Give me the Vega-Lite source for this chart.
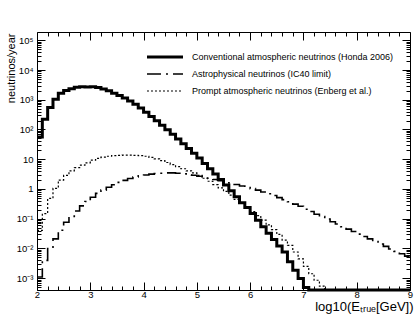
{
  "$schema": "https://vega.github.io/schema/vega-lite/v6.json",
  "autosize": {"type": "none"},
  "padding": {"left": 37, "top": 32, "right": 5, "bottom": 33},
  "width": 373,
  "height": 258,
  "background": "white",
  "config": {
    "view": {"stroke": "black", "strokeWidth": 1},
    "font": "Liberation Sans",
    "axis": {"domain": false, "grid": false, "tickColor": "black", "labelColor": "black", "titleColor": "black", "labelFont": "Liberation Sans", "titleFont": "Liberation Sans", "titleFontWeight": "normal", "labelOverlap": false, "labelFlush": false, "tickWidth": 1},
    "legend": {"orient": "none", "legendX": 108, "legendY": 17, "symbolType": "stroke", "symbolSize": 1300, "labelFontSize": 9, "labelFont": "Liberation Sans", "labelColor": "black", "symbolStrokeColor": "black", "labelOffset": 7, "rowPadding": 1, "clipHeight": 16, "labelLimit": 0}
  },
  "data": {"values": [
    {"s":"conv","x":2.0,"y":56.2},{"s":"conv","x":2.1,"y":219},{"s":"conv","x":2.2,"y":550},{"s":"conv","x":2.3,"y":1047},{"s":"conv","x":2.4,"y":1660},{"s":"conv","x":2.5,"y":2042},{"s":"conv","x":2.6,"y":2344},{"s":"conv","x":2.7,"y":2630},{"s":"conv","x":2.8,"y":2754},{"s":"conv","x":2.9,"y":2692},
    {"s":"conv","x":3.0,"y":2754},{"s":"conv","x":3.1,"y":2570},{"s":"conv","x":3.2,"y":2291},{"s":"conv","x":3.3,"y":1995},{"s":"conv","x":3.4,"y":1660},{"s":"conv","x":3.5,"y":1380},{"s":"conv","x":3.6,"y":1148},{"s":"conv","x":3.7,"y":912},{"s":"conv","x":3.8,"y":708},{"s":"conv","x":3.9,"y":525},
    {"s":"conv","x":4.0,"y":380},{"s":"conv","x":4.1,"y":275},{"s":"conv","x":4.2,"y":195},{"s":"conv","x":4.3,"y":138},{"s":"conv","x":4.4,"y":97.7},{"s":"conv","x":4.5,"y":69.2},{"s":"conv","x":4.6,"y":47.9},{"s":"conv","x":4.7,"y":33.1},{"s":"conv","x":4.8,"y":22.9},{"s":"conv","x":4.9,"y":15.8},
    {"s":"conv","x":5.0,"y":11.0},{"s":"conv","x":5.1,"y":7.24},{"s":"conv","x":5.2,"y":4.79},{"s":"conv","x":5.3,"y":3.16},{"s":"conv","x":5.4,"y":2.09},{"s":"conv","x":5.5,"y":1.35},{"s":"conv","x":5.6,"y":0.871},{"s":"conv","x":5.7,"y":0.55},{"s":"conv","x":5.8,"y":0.347},{"s":"conv","x":5.9,"y":0.24},
    {"s":"conv","x":6.0,"y":0.151},{"s":"conv","x":6.1,"y":0.0891},{"s":"conv","x":6.2,"y":0.0537},{"s":"conv","x":6.3,"y":0.0324},{"s":"conv","x":6.4,"y":0.02},{"s":"conv","x":6.5,"y":0.012},{"s":"conv","x":6.6,"y":0.00759},{"s":"conv","x":6.7,"y":0.00355},{"s":"conv","x":6.8,"y":0.00186},{"s":"conv","x":6.9,"y":0.000977},
    {"s":"conv","x":7.0,"y":0.00049},{"s":"conv","x":7.1,"y":0.0004},{"s":"conv","x":7.5,"y":0.0004},{"s":"conv","x":8.0,"y":0.0004},{"s":"conv","x":8.5,"y":0.0004},{"s":"conv","x":9.0,"y":0.0004},

    {"s":"prompt","x":2.0,"y":0.0407},{"s":"prompt","x":2.1,"y":0.148},{"s":"prompt","x":2.2,"y":0.479},{"s":"prompt","x":2.3,"y":1.047},{"s":"prompt","x":2.4,"y":1.995},{"s":"prompt","x":2.5,"y":2.884},{"s":"prompt","x":2.6,"y":4.07},{"s":"prompt","x":2.7,"y":5.25},{"s":"prompt","x":2.8,"y":6.31},{"s":"prompt","x":2.9,"y":7.59},
    {"s":"prompt","x":3.0,"y":9.33},{"s":"prompt","x":3.1,"y":10.7},{"s":"prompt","x":3.2,"y":11.7},{"s":"prompt","x":3.3,"y":12.6},{"s":"prompt","x":3.4,"y":13.2},{"s":"prompt","x":3.5,"y":13.5},{"s":"prompt","x":3.6,"y":13.8},{"s":"prompt","x":3.7,"y":13.8},{"s":"prompt","x":3.8,"y":13.5},{"s":"prompt","x":3.9,"y":13.2},
    {"s":"prompt","x":4.0,"y":12.6},{"s":"prompt","x":4.1,"y":11.5},{"s":"prompt","x":4.2,"y":10.2},{"s":"prompt","x":4.3,"y":8.91},{"s":"prompt","x":4.4,"y":7.76},{"s":"prompt","x":4.5,"y":6.61},{"s":"prompt","x":4.6,"y":5.62},{"s":"prompt","x":4.7,"y":4.79},{"s":"prompt","x":4.8,"y":4.07},{"s":"prompt","x":4.9,"y":3.47},
    {"s":"prompt","x":5.0,"y":2.88},{"s":"prompt","x":5.1,"y":2.29},{"s":"prompt","x":5.2,"y":1.82},{"s":"prompt","x":5.3,"y":1.41},{"s":"prompt","x":5.4,"y":1.096},{"s":"prompt","x":5.5,"y":0.832},{"s":"prompt","x":5.6,"y":0.617},{"s":"prompt","x":5.7,"y":0.447},{"s":"prompt","x":5.8,"y":0.324},{"s":"prompt","x":5.9,"y":0.24},
    {"s":"prompt","x":6.0,"y":0.174},{"s":"prompt","x":6.1,"y":0.126},{"s":"prompt","x":6.2,"y":0.0891},{"s":"prompt","x":6.3,"y":0.0617},{"s":"prompt","x":6.4,"y":0.0427},{"s":"prompt","x":6.5,"y":0.0295},{"s":"prompt","x":6.6,"y":0.0191},{"s":"prompt","x":6.7,"y":0.0126},{"s":"prompt","x":6.8,"y":0.00759},{"s":"prompt","x":6.9,"y":0.00447},
    {"s":"prompt","x":7.0,"y":0.00251},{"s":"prompt","x":7.1,"y":0.00141},{"s":"prompt","x":7.2,"y":0.000851},{"s":"prompt","x":7.3,"y":0.000537},{"s":"prompt","x":7.4,"y":0.0004},{"s":"prompt","x":8.0,"y":0.0004},{"s":"prompt","x":9.0,"y":0.0004},

    {"s":"astro","x":2.0,"y":0.0011},{"s":"astro","x":2.1,"y":0.00398},{"s":"astro","x":2.2,"y":0.01},{"s":"astro","x":2.3,"y":0.0209},{"s":"astro","x":2.4,"y":0.0407},{"s":"astro","x":2.5,"y":0.0759},{"s":"astro","x":2.6,"y":0.12},{"s":"astro","x":2.7,"y":0.182},{"s":"astro","x":2.8,"y":0.269},{"s":"astro","x":2.9,"y":0.38},
    {"s":"astro","x":3.0,"y":0.525},{"s":"astro","x":3.1,"y":0.708},{"s":"astro","x":3.2,"y":0.912},{"s":"astro","x":3.3,"y":1.148},{"s":"astro","x":3.4,"y":1.38},{"s":"astro","x":3.5,"y":1.66},{"s":"astro","x":3.6,"y":1.95},{"s":"astro","x":3.7,"y":2.239},{"s":"astro","x":3.8,"y":2.512},{"s":"astro","x":3.9,"y":2.754},
    {"s":"astro","x":4.0,"y":2.951},{"s":"astro","x":4.1,"y":3.162},{"s":"astro","x":4.2,"y":3.311},{"s":"astro","x":4.3,"y":3.388},{"s":"astro","x":4.4,"y":3.467},{"s":"astro","x":4.5,"y":3.467},{"s":"astro","x":4.6,"y":3.388},{"s":"astro","x":4.7,"y":3.236},{"s":"astro","x":4.8,"y":3.02},{"s":"astro","x":4.9,"y":2.884},
    {"s":"astro","x":5.0,"y":2.692},{"s":"astro","x":5.1,"y":2.512},{"s":"astro","x":5.2,"y":2.291},{"s":"astro","x":5.3,"y":2.089},{"s":"astro","x":5.4,"y":1.905},{"s":"astro","x":5.5,"y":1.738},{"s":"astro","x":5.6,"y":1.585},{"s":"astro","x":5.7,"y":1.413},{"s":"astro","x":5.8,"y":1.259},{"s":"astro","x":5.9,"y":1.122},
    {"s":"astro","x":6.0,"y":1.023},{"s":"astro","x":6.1,"y":0.912},{"s":"astro","x":6.2,"y":0.794},{"s":"astro","x":6.3,"y":0.692},{"s":"astro","x":6.4,"y":0.603},{"s":"astro","x":6.5,"y":0.513},{"s":"astro","x":6.6,"y":0.437},{"s":"astro","x":6.7,"y":0.372},{"s":"astro","x":6.8,"y":0.309},{"s":"astro","x":6.9,"y":0.263},
    {"s":"astro","x":7.0,"y":0.209},{"s":"astro","x":7.1,"y":0.174},{"s":"astro","x":7.2,"y":0.141},{"s":"astro","x":7.3,"y":0.1175},{"s":"astro","x":7.4,"y":0.0977},{"s":"astro","x":7.5,"y":0.0794},{"s":"astro","x":7.6,"y":0.0661},{"s":"astro","x":7.7,"y":0.0537},{"s":"astro","x":7.8,"y":0.0447},{"s":"astro","x":7.9,"y":0.0372},
    {"s":"astro","x":8.0,"y":0.0302},{"s":"astro","x":8.1,"y":0.0251},{"s":"astro","x":8.2,"y":0.0209},{"s":"astro","x":8.3,"y":0.017},{"s":"astro","x":8.4,"y":0.0141},{"s":"astro","x":8.5,"y":0.0117},{"s":"astro","x":8.6,"y":0.00955},{"s":"astro","x":8.7,"y":0.00794},{"s":"astro","x":8.8,"y":0.00661},{"s":"astro","x":8.9,"y":0.0055},{"s":"astro","x":9.0,"y":0.0055}
  ]},
  "resolve": {"scale": {"x": "independent", "y": "independent"}, "axis": {"x": "independent", "y": "independent"}},
  "layer": [
    {
      "mark": {"type": "line", "interpolate": "step-after", "color": "black"},
      "encoding": {
        "x": {"field": "x", "type": "quantitative", "scale": {"domain": [2, 9], "nice": false, "zero": false},
          "axis": {"orient": "bottom",
            "values": [2,2.2,2.4,2.6,2.8,3,3.2,3.4,3.6,3.8,4,4.2,4.4,4.6,4.8,5,5.2,5.4,5.6,5.8,6,6.2,6.4,6.6,6.8,7,7.2,7.4,7.6,7.8,8,8.2,8.4,8.6,8.8,9],
            "labelExpr": "abs(datum.value - round(datum.value)) < 0.01 ? format(datum.value, 'd') : ''",
            "tickSize": {"condition": {"test": "abs(datum.value - round(datum.value)) < 0.01", "value": -8}, "value": -4},
            "labelPadding": 7, "labelFontSize": 9.5,
            "title": "log10(Eₜᵣᵤₑ[GeV])", "titleFontSize": 13, "titleX": 376, "titleY": 20, "titleAlign": "right", "titleBaseline": "alphabetic", "titleAnchor": "end"}},
        "y": {"field": "y", "type": "quantitative", "scale": {"type": "log", "domain": [0.0004, 190000], "nice": false},
          "axis": {"orient": "left",
            "values": [0.0004,0.0005,0.0006,0.0007,0.0008,0.0009,0.001,0.002,0.003,0.004,0.005,0.006,0.007,0.008,0.009,0.01,0.02,0.03,0.04,0.05,0.06,0.07,0.08,0.09,0.1,0.2,0.3,0.4,0.5,0.6,0.7,0.8,0.9,1,2,3,4,5,6,7,8,9,10,20,30,40,50,60,70,80,90,100,200,300,400,500,600,700,800,900,1000,2000,3000,4000,5000,6000,7000,8000,9000,10000,20000,30000,40000,50000,60000,70000,80000,90000,100000],
            "labelExpr": "abs(log(datum.value)/LN10 - round(log(datum.value)/LN10)) < 0.001 ? ['10⁻⁴','10⁻³','10⁻²','10⁻¹','1','10','10²','10³','10⁴','10⁵'][round(log(datum.value)/LN10) + 4] : ''",
            "tickSize": {"condition": {"test": "abs(log(datum.value)/LN10 - round(log(datum.value)/LN10)) < 0.001", "value": -8}, "value": -4},
            "labelPadding": 12, "labelFontSize": 9.5,
            "title": "neutrinos/year", "titleFontSize": 11, "titleAngle": -90, "titleX": -26, "titleY": 1, "titleAlign": "right", "titleBaseline": "middle"}},
        "strokeDash": {"field": "s", "type": "nominal",
          "scale": {"domain": ["conv", "astro", "prompt"], "range": [[1, 0], [14, 5, 2, 5], [2, 2]]},
          "legend": {"title": null, "labelExpr": "datum.label == 'conv' ? 'Conventional atmospheric neutrinos (Honda 2006)' : datum.label == 'astro' ? 'Astrophysical neutrinos (IC40 limit)' : 'Prompt atmospheric neutrinos (Enberg et al.)'"}},
        "strokeWidth": {"field": "s", "type": "nominal",
          "scale": {"type": "ordinal", "domain": ["conv", "astro", "prompt"], "range": [3, 1.6, 1.2]},
          "legend": {"title": null, "labelExpr": "datum.label == 'conv' ? 'Conventional atmospheric neutrinos (Honda 2006)' : datum.label == 'astro' ? 'Astrophysical neutrinos (IC40 limit)' : 'Prompt atmospheric neutrinos (Enberg et al.)'"}}
      }
    },
    {
      "mark": {"type": "line", "interpolate": "step-after", "opacity": 0},
      "encoding": {
        "detail": {"field": "s"},
        "x": {"field": "x", "type": "quantitative", "scale": {"domain": [2, 9], "nice": false, "zero": false},
          "axis": {"orient": "top", "labels": false, "title": null,
            "values": [2,2.2,2.4,2.6,2.8,3,3.2,3.4,3.6,3.8,4,4.2,4.4,4.6,4.8,5,5.2,5.4,5.6,5.8,6,6.2,6.4,6.6,6.8,7,7.2,7.4,7.6,7.8,8,8.2,8.4,8.6,8.8,9],
            "tickSize": {"condition": {"test": "abs(datum.value - round(datum.value)) < 0.01", "value": -8}, "value": -4}}},
        "y": {"field": "y", "type": "quantitative", "scale": {"type": "log", "domain": [0.0004, 190000], "nice": false},
          "axis": {"orient": "right", "labels": false, "title": null,
            "values": [0.0004,0.0005,0.0006,0.0007,0.0008,0.0009,0.001,0.002,0.003,0.004,0.005,0.006,0.007,0.008,0.009,0.01,0.02,0.03,0.04,0.05,0.06,0.07,0.08,0.09,0.1,0.2,0.3,0.4,0.5,0.6,0.7,0.8,0.9,1,2,3,4,5,6,7,8,9,10,20,30,40,50,60,70,80,90,100,200,300,400,500,600,700,800,900,1000,2000,3000,4000,5000,6000,7000,8000,9000,10000,20000,30000,40000,50000,60000,70000,80000,90000,100000],
            "tickSize": {"condition": {"test": "abs(log(datum.value)/LN10 - round(log(datum.value)/LN10)) < 0.001", "value": -8}, "value": -4}}}
      }
    }
  ]
}
